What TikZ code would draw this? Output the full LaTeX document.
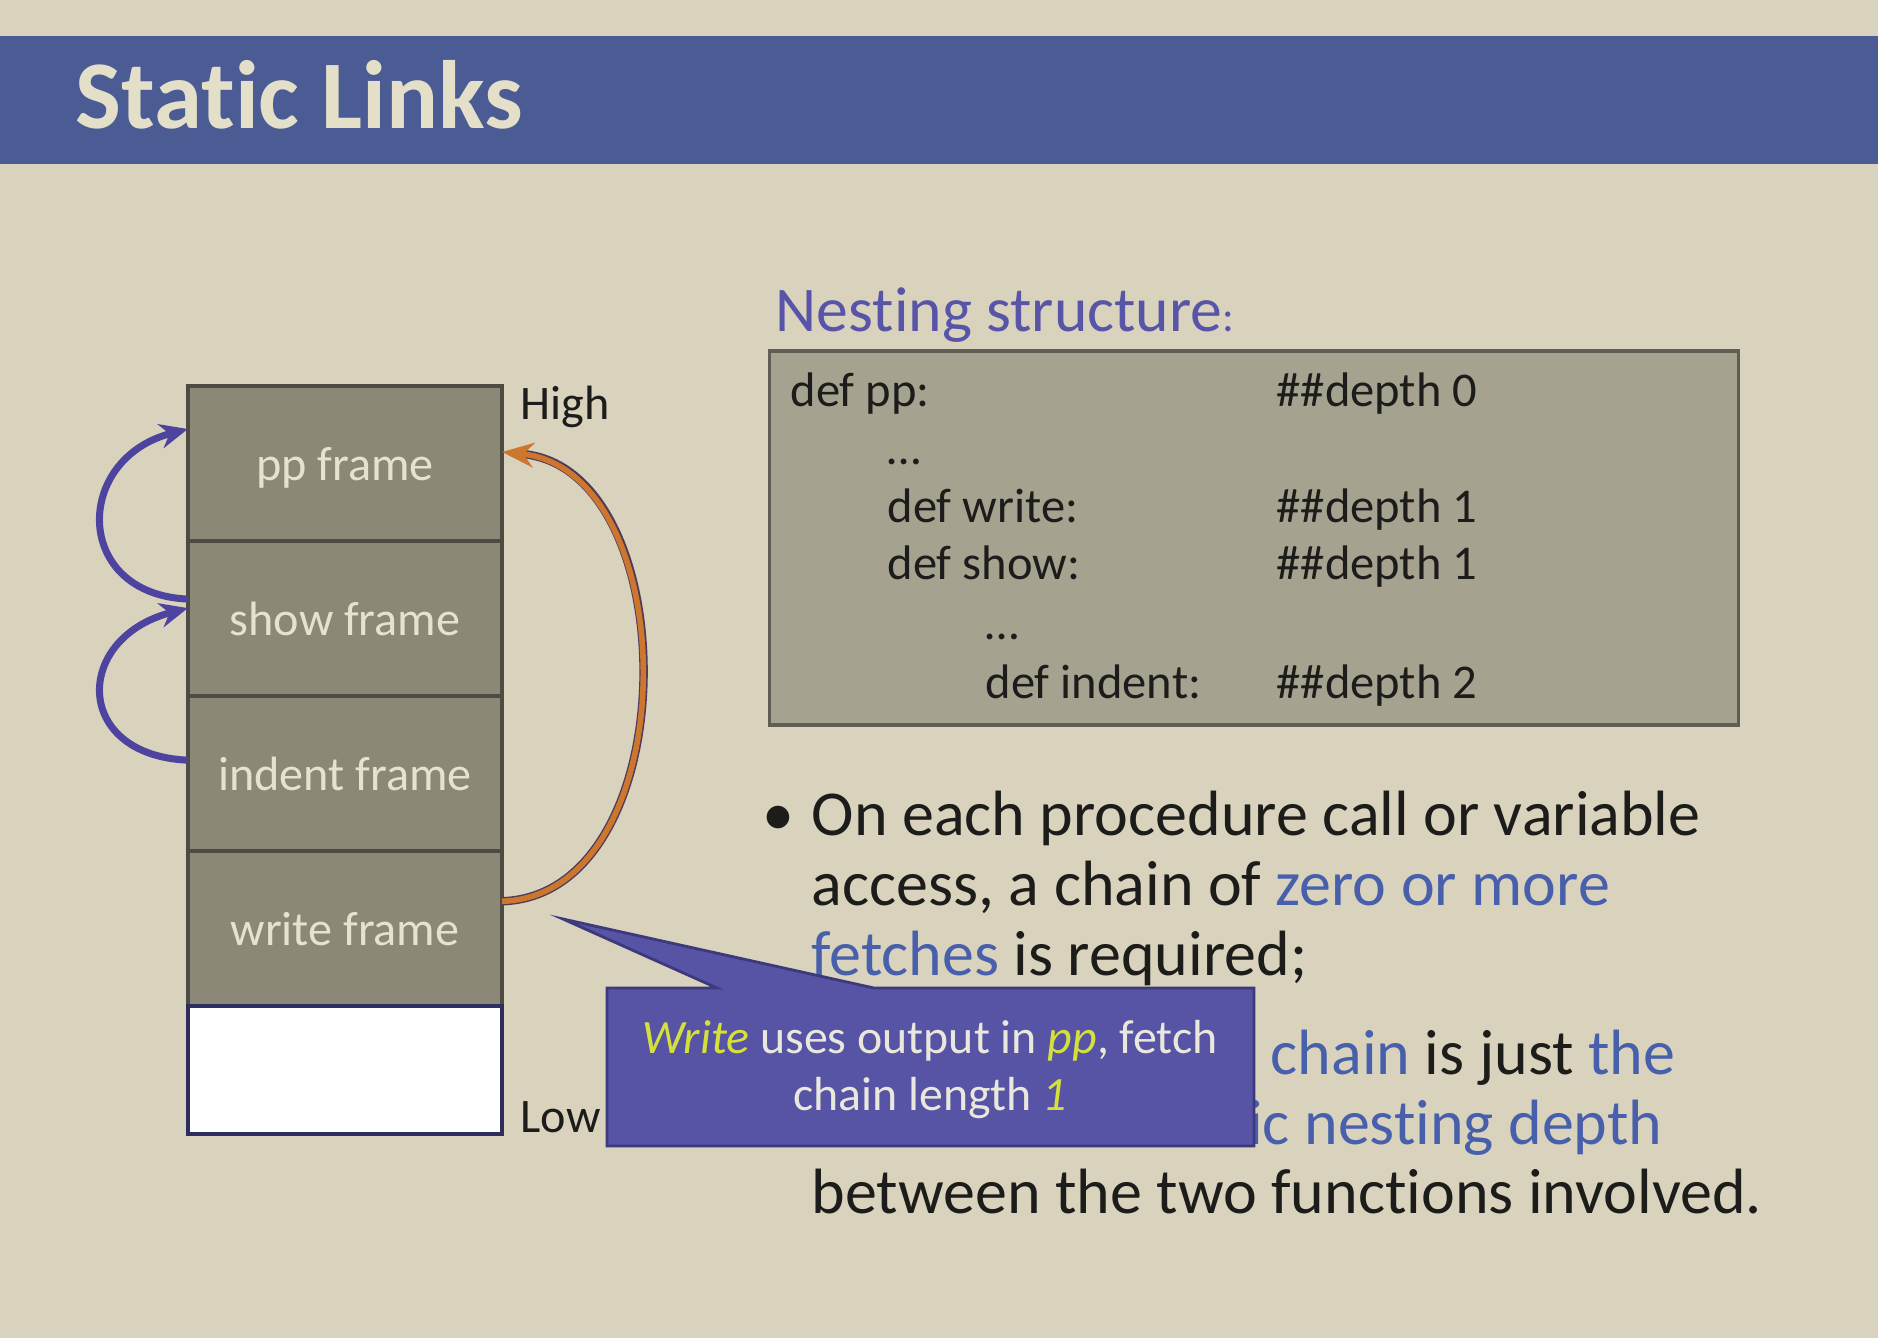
\documentclass[tikz,border=0pt]{standalone}
\usepackage{fontspec}
\setmainfont{Carlito}[Ligatures=NoCommon]
\usepackage{xcolor}
\usetikzlibrary{arrows.meta, positioning, calc}
\definecolor{SlideBg}{RGB}{217,211,189}
\definecolor{BandBlue}{RGB}{75,91,148}
\definecolor{TitleText}{RGB}{228,223,200}
\definecolor{FrameGray}{RGB}{139,136,119}
\definecolor{FrameLine}{RGB}{78,74,68}
\definecolor{FrameText}{RGB}{230,226,208}
\definecolor{StackNavy}{RGB}{45,45,95}
\definecolor{CodeGray}{RGB}{166,162,144}
\definecolor{CodeLine}{RGB}{95,93,84}
\definecolor{Ink}{RGB}{28,28,26}
\definecolor{HeadBlue}{RGB}{88,84,168}
\definecolor{LinkBlue}{RGB}{72,96,172}
\definecolor{NoteFill}{RGB}{88,84,165}
\definecolor{NoteLine}{RGB}{60,58,125}
\definecolor{NoteText}{RGB}{234,232,220}
\definecolor{NoteYellow}{RGB}{214,224,58}
\definecolor{LinkPurple}{RGB}{78,68,160}
\definecolor{FetchOrange}{RGB}{205,118,45}
\definecolor{FetchEdge}{RGB}{80,60,90}

\begin{document}
\begin{tikzpicture}[
  x=0.01cm, y=-0.01cm,
  frame/.style={rectangle, draw=FrameLine, line width=1pt, fill=FrameGray,
                text=FrameText, minimum width=3.14cm, minimum height=1.55cm,
                inner sep=0pt, outer sep=0pt, text height=1.16em, text depth=0.2em,
                font=\fontsize{13.7}{16}\selectfont},
  emptyframe/.style={frame, fill=white, draw=StackNavy, line width=1.1pt,
                     minimum height=1.28cm},
  lbl/.style={anchor=base west, inner sep=0pt, text=Ink,
              font=\fontsize{13.7}{16}\selectfont},
  codetxt/.style={anchor=base west, inner sep=0pt, text=Ink,
                  font=\fontsize{13.8}{16}\selectfont},
  bullettxt/.style={anchor=base west, inner sep=0pt, text=Ink,
                    font=\fontsize{18.2}{20}\selectfont},
  link/.style={-{Stealth[length=8pt, width=7pt]}, LinkPurple, line width=2pt},
  fetch/.style={-{Stealth[length=9pt, width=7pt]}, FetchOrange, line width=1.6pt},
]

\fill[SlideBg] (0,0) rectangle (1878,1338);
\fill[BandBlue] (0,36) rectangle (1878,164);
\node[anchor=base west, inner sep=0pt, text=TitleText,
      font=\bfseries\fontsize{27.6}{30}\selectfont] (title) at (75,128) {Static Links};

\node[anchor=base west, inner sep=0pt, text=HeadBlue,
      font=\fontsize{18.1}{20}\selectfont] (nest) at (775,331)
      {Nesting structure{\fontsize{12.5}{14}\selectfont:}};

\node[rectangle, draw=CodeLine, line width=1pt, fill=CodeGray,
      minimum width=9.68cm, minimum height=3.74cm] (code) at (1254,538) {};
\node[codetxt] (l1) at (790,406) {def pp:};
\node[codetxt] (l2) at (887,464) {…};
\node[codetxt] (l3) at (887,522) {def write:};
\node[codetxt] (l4) at (887,579) {def show:};
\node[codetxt] (l5) at (985,639) {…};
\node[codetxt] (l6) at (985,698) {def indent:};
\node[codetxt] (d1) at (1276,406) {\#\#depth 0};
\node[codetxt] (d2) at (1276,522) {\#\#depth 1};
\node[codetxt] (d3) at (1276,579) {\#\#depth 1};
\node[codetxt] (d4) at (1276,698) {\#\#depth 2};

\node[bullettxt] (bul1) at (762,835) {•};
\node[bullettxt] (b1a) at (811,835) {On each procedure call or variable};
\node[bullettxt] (b1b) at (811,905) {access, a chain of \textcolor{LinkBlue}{zero or more}};
\node[bullettxt] (b1c) at (811,975) {\textcolor{LinkBlue}{fetches} is required;};
\node[bullettxt] (bul2) at (762,1074) {•};
\node[bullettxt] (b2a) at (811,1074) {The length of the \textcolor{LinkBlue}{chain} is just \textcolor{LinkBlue}{the}};
\node[bullettxt, text=LinkBlue] (b2b) at (811,1144) {difference in static nesting depth};
\node[bullettxt] (b2c) at (811,1213) {between the two functions involved.};

\node[frame] (pp) at (345,463.5) {pp frame};
\node[frame, below=0pt of pp] (sh) {show frame};
\node[frame, below=0pt of sh] (ind) {indent frame};
\node[frame, below=0pt of ind] (wr) {write frame};
\node[emptyframe, below=0pt of wr] (free) {};

\node[lbl] (high) at (520,419) {High};
\node[lbl] (low) at (520,1132) {Low};

\draw[link] ([yshift=0.195cm]sh.west) .. controls +(-115,-5) and +(-115,30) .. ([yshift=0.345cm]pp.west);
\draw[link] ([yshift=0.135cm]ind.west) .. controls +(-115,-5) and +(-115,30) .. ([yshift=0.105cm]sh.west);
\draw[FetchEdge, line width=2.4pt, shorten >=6pt] ([yshift=0.275cm]wr.east) .. controls +(185,-6) and +(185,18) .. ([yshift=0.115cm]pp.east);
\draw[fetch] ([yshift=0.275cm]wr.east) .. controls +(185,-6) and +(185,18) .. ([yshift=0.115cm]pp.east);

\draw[NoteLine, line width=0.8pt, fill=NoteFill]
  (607,988) -- (717,988) -- (563,919) -- (874,988) -- (1254,988)
  -- (1254,1146) -- (607,1146) -- cycle;
\node[align=center, inner sep=0pt, text=NoteText,
      font=\fontsize{13.6}{16.2}\selectfont] (note) at (930,1069)
  {\textit{\textcolor{NoteYellow}{Write}} uses output in \textit{\textcolor{NoteYellow}{pp}}, fetch\\
   chain length \textit{\textcolor{NoteYellow}{1}}};

\end{tikzpicture}
\end{document}
